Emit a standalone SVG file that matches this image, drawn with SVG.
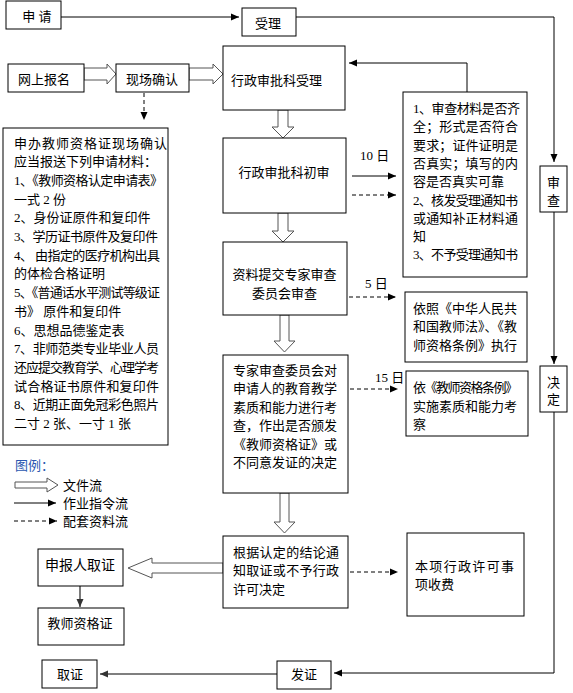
<svg xmlns="http://www.w3.org/2000/svg" width="573" height="693" viewBox="0 0 573 693">
<defs>
<marker id="ah" viewBox="0 0 8 8" refX="8" refY="4" markerWidth="8" markerHeight="8" markerUnits="userSpaceOnUse" orient="auto">
<path d="M0,0.5 L8,4 L0,7.5 Z" fill="#000"/>
</marker>
<marker id="ahg" viewBox="0 0 8 8" refX="8" refY="4" markerWidth="8" markerHeight="8" markerUnits="userSpaceOnUse" orient="auto">
<path d="M0,0.5 L8,4 L0,7.5 Z" fill="#333"/>
</marker>
</defs>
<style>
rect.b{fill:#fff;stroke:#000;stroke-width:1}
text{font-family:"Liberation Serif","Noto Sans CJK SC",serif;font-size:13px;fill:#000}
.c{text-anchor:middle;dominant-baseline:central}
.l{dominant-baseline:central}
.s{fill:none;stroke:#000;stroke-width:1}
.d{fill:none;stroke:#000;stroke-width:1;stroke-dasharray:4,3}
.h{fill:#fff;stroke:#555;stroke-width:1}
</style>
<rect width="573" height="693" fill="#fff"/>

<g id="connectors">
<line class="s" x1="61" y1="17" x2="239" y2="17" marker-end="url(#ah)"/>
<polyline class="s" points="296,17 554,17 554,162" marker-end="url(#ah)"/>
<line class="s" x1="554" y1="212" x2="554" y2="364" marker-end="url(#ah)"/>
<polyline class="s" points="554,412 554,673 334,673" marker-end="url(#ah)"/>
<line x1="277" y1="674" x2="100" y2="674" stroke="#555" stroke-width="1.5" marker-end="url(#ahg)"/>
<polyline class="s" points="467,92 467,63 349,63" marker-end="url(#ah)"/>
<line class="d" x1="144" y1="93" x2="144" y2="120" marker-end="url(#ah)"/>
<line class="s" x1="352" y1="176" x2="396" y2="176" marker-end="url(#ah)"/>
<line class="d" x1="352" y1="195" x2="396" y2="195" marker-end="url(#ah)"/>
<line class="d" x1="349" y1="297" x2="396" y2="297" marker-end="url(#ah)"/>
<line class="d" x1="350" y1="389" x2="398" y2="389" marker-end="url(#ah)"/>
<line class="d" x1="350" y1="572" x2="398" y2="572" marker-end="url(#ah)"/>
<line x1="80" y1="586" x2="80" y2="607" stroke="#333" stroke-width="1.3" marker-end="url(#ahg)"/>
<!-- hollow file-flow arrows -->
<polygon class="h" points="84,68 107,68 107,64 116,74 107,84 107,80 84,80"/>
<polygon class="h" points="189,68 213,68 213,64 223,74 213,84 213,80 189,80"/>
<polygon class="h" points="278,110 288,110 288,127 294,127 283,138 272,127 278,127"/>
<polygon class="h" points="278,213 288,213 288,231 294,231 283,242 272,231 278,231"/>
<polygon class="h" points="280,315 289,315 289,341 295,341 284.5,352 274,341 280,341"/>
<polygon class="h" points="280,493 289,493 289,522 295,522 284.5,533 274,522 280,522"/>
<polygon class="h" points="223,563 152,563 152,558 128,568 152,578 152,573 223,573"/>
</g>

<g id="n-apply"><rect class="b" x="6" y="1" width="55" height="28"/><text class="c" x="37" y="16">申 请</text></g>
<g id="n-accept"><rect class="b" x="242" y="8" width="54" height="28"/><text class="c" x="268" y="23">受理</text></g>
<g id="n-online"><rect class="b" x="8" y="64" width="76" height="28"/><text class="c" x="44" y="79">网上报名</text></g>
<g id="n-onsite"><rect class="b" x="116" y="64" width="73" height="28"/><text class="c" x="152" y="79">现场确认</text></g>
<g id="n-admin-accept"><rect class="b" x="223" y="46" width="122" height="64"/><text class="l" x="231" y="80">行政审批科受理</text></g>

<g id="n-materials">
<rect class="b" x="3" y="128" width="165" height="317"/>
<text class="l" x="14" y="143" textLength="153" lengthAdjust="spacing">申办教师资格证现场确认</text>
<text class="l" x="14" y="161.7">应当报送下列申请材料：</text>
<text class="l" x="14" y="180.4" textLength="149" lengthAdjust="spacing">1、《教师资格认定申请表》</text>
<text class="l" x="14" y="199.1">一式 2 份</text>
<text class="l" x="14" y="217.8">2、身份证原件和复印件</text>
<text class="l" x="14" y="236.5" textLength="144" lengthAdjust="spacing">3、学历证书原件及复印件</text>
<text class="l" x="14" y="255.2" textLength="146" lengthAdjust="spacing">4、 由指定的医疗机构出具</text>
<text class="l" x="14" y="273.9">的体检合格证明</text>
<text class="l" x="14" y="292.6" textLength="146" lengthAdjust="spacing">5、《普通话水平测试等级证</text>
<text class="l" x="14" y="311.3">书》 原件和复印件</text>
<text class="l" x="14" y="330">6、思想品德鉴定表</text>
<text class="l" x="14" y="348.7" textLength="145" lengthAdjust="spacing">7、非师范类专业毕业人员</text>
<text class="l" x="14" y="367.4" textLength="145" lengthAdjust="spacing">还应提交教育学、心理学考</text>
<text class="l" x="14" y="386.1" textLength="145" lengthAdjust="spacing">试合格证书原件和复印件</text>
<text class="l" x="14" y="404.8" textLength="145" lengthAdjust="spacing">8、近期正面免冠彩色照片</text>
<text class="l" x="14" y="423.5">二寸 2 张、一寸 1 张</text>
</g>

<g id="n-first-review"><rect class="b" x="223" y="138" width="123" height="75"/><text class="c" x="284" y="172">行政审批科初审</text></g>
<g id="n-submit"><rect class="b" x="223" y="242" width="124" height="73"/>
<text class="c" x="284.5" y="274">资料提交专家审查</text><text class="c" x="284.5" y="293">委员会审查</text></g>
<g id="n-expert"><rect class="b" x="223" y="355" width="125" height="138"/>
<text class="l" x="233" y="370" textLength="104" lengthAdjust="spacing">专家审查委员会对</text>
<text class="l" x="233" y="388.5" textLength="104" lengthAdjust="spacing">申请人的教育教学</text>
<text class="l" x="233" y="407" textLength="104" lengthAdjust="spacing">素质和能力进行考</text>
<text class="l" x="233" y="425.5" textLength="104" lengthAdjust="spacing">查，作出是否颁发</text>
<text class="l" x="233" y="444" textLength="104" lengthAdjust="spacing">《教师资格证》或</text>
<text class="l" x="233" y="462.5" textLength="104" lengthAdjust="spacing">不同意发证的决定</text>
</g>
<g id="n-notify"><rect class="b" x="223" y="536" width="125" height="72"/>
<text class="l" x="233" y="552" textLength="106" lengthAdjust="spacing">根据认定的结论通</text>
<text class="l" x="233" y="570.5" textLength="106" lengthAdjust="spacing">知取证或不予行政</text>
<text class="l" x="233" y="589">许可决定</text>
</g>

<g id="n-check-items"><rect class="b" x="403" y="92" width="124" height="185"/>
<text class="l" x="413" y="108.5" textLength="107" lengthAdjust="spacing">1、审查材料是否齐</text>
<text class="l" x="413" y="126.8" textLength="105" lengthAdjust="spacing">全；形式是否符合</text>
<text class="l" x="413" y="145.1" textLength="105" lengthAdjust="spacing">要求；证件证明是</text>
<text class="l" x="413" y="163.4" textLength="105" lengthAdjust="spacing">否真实；填写的内</text>
<text class="l" x="413" y="181.7">容是否真实可靠</text>
<text class="l" x="413" y="200" textLength="105" lengthAdjust="spacing">2、核发受理通知书</text>
<text class="l" x="413" y="218.3" textLength="105" lengthAdjust="spacing">或通知补正材料通</text>
<text class="l" x="413" y="236.6">知</text>
<text class="l" x="413" y="254.9" textLength="105" lengthAdjust="spacing">3、不予受理通知书</text>
</g>
<g id="n-law"><rect class="b" x="405" y="292" width="122" height="70"/>
<text class="l" x="413" y="308" textLength="104" lengthAdjust="spacing">依照《中华人民共</text>
<text class="l" x="413" y="326.5" textLength="104" lengthAdjust="spacing">和国教师法》、《教</text>
<text class="l" x="413" y="345" textLength="104" lengthAdjust="spacing">师资格条例》执行</text>
</g>
<g id="n-regulation"><rect class="b" x="406" y="371" width="122" height="65"/>
<text class="l" x="413" y="387" textLength="105" lengthAdjust="spacing">依《教师资格条例》</text>
<text class="l" x="413" y="406" textLength="104" lengthAdjust="spacing">实施素质和能力考</text>
<text class="l" x="413" y="424.5">察</text>
</g>
<g id="n-fee"><rect class="b" x="407" y="533" width="117" height="83"/>
<text class="l" x="415" y="566" textLength="99" lengthAdjust="spacing">本项行政许可事</text>
<text class="l" x="415" y="584">项收费</text>
</g>

<g id="n-review"><rect class="b" x="540" y="166" width="27" height="46"/>
<text class="c" x="553.5" y="182">审</text><text class="c" x="553.5" y="200">查</text></g>
<g id="n-decide"><rect class="b" x="540" y="366" width="27" height="46"/>
<text class="c" x="553.5" y="382">决</text><text class="c" x="553.5" y="399">定</text></g>

<g id="n-applicant-get"><rect class="b" x="38" y="549" width="85" height="37"/><text class="c" x="80" y="565" style="font-size:14px">申报人取证</text></g>
<g id="n-certificate"><rect class="b" x="38" y="608" width="86" height="37"/><text class="c" x="80" y="623">教师资格证</text></g>
<g id="n-issue"><rect class="b" x="277" y="661" width="54" height="28"/><text class="c" x="304" y="674">发证</text></g>
<g id="n-get"><rect class="b" x="42" y="660" width="55" height="28"/><text class="c" x="70" y="674">取证</text></g>

<g id="labels">
<text class="l" x="360" y="155">10 日</text>
<text class="l" x="365" y="283">5 日</text>
<text class="l" x="375" y="377">15 日</text>
</g>

<g id="legend">
<text class="l" x="15" y="465" style="fill:#2a57b0">图例：</text>
<polygon class="h" points="15,482 47,482 47,478 58,485 47,492 47,488 15,488"/>
<text class="l" x="63" y="485">文件流</text>
<line class="s" x1="14" y1="503" x2="56" y2="503" marker-end="url(#ah)"/>
<text class="l" x="63" y="503">作业指令流</text>
<line class="d" x1="14" y1="521" x2="57" y2="521" marker-end="url(#ah)"/>
<text class="l" x="63" y="521">配套资料流</text>
</g>
</svg>
